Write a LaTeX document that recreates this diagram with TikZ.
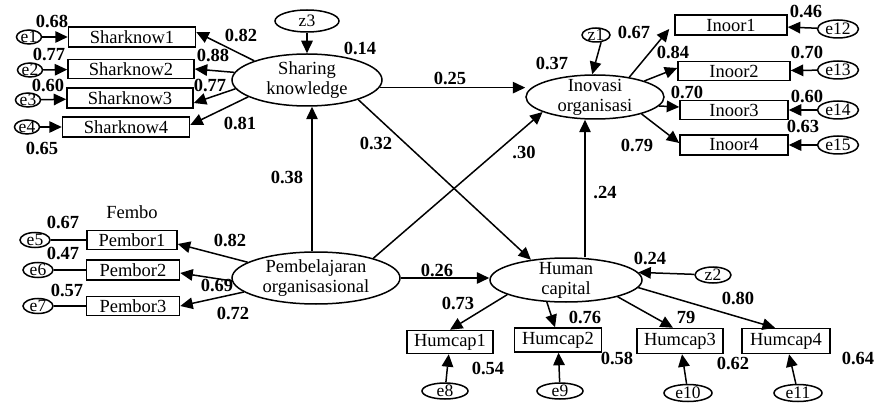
\documentclass[tikz,border=0pt]{standalone}
\usepackage{fontspec}
\setmainfont{Liberation Serif}
\usetikzlibrary{shapes.geometric,arrows.meta}
\begin{document}
\begin{tikzpicture}[x=1pt,y=-1pt,
  fnt/.style={font=\fontsize{18.5}{20}\selectfont},
  efnt/.style={font=\fontsize{17.5}{19}\selectfont,inner sep=0pt},
  lat/.style={draw,ellipse,line width=1.5pt,inner sep=0pt},
  obs/.style={draw,rectangle,line width=1.5pt,inner sep=1pt,fnt},
  num/.style={font=\fontsize{18.5}{20}\selectfont\bfseries,inner sep=0pt},
  arr/.style={line width=1.5pt,-{Triangle[length=12.5pt,width=11.5pt]}},
  ln/.style={line width=1.5pt}]
\useasboundingbox (0,0) rectangle (878,406);

% latent variables
\node[lat,minimum width=150,minimum height=52,label={[name=skt,fnt,align=center,inner sep=0pt]center:Sharing\\knowledge}] (sk) at (307,80) {};
\node[lat,minimum width=138,minimum height=44,label={[name=iot,fnt,align=center,inner sep=0pt]center:Inovasi\\organisasi}] (io) at (595,97) {};
\node[lat,minimum width=152,minimum height=44,label={[name=hct,fnt,align=center,inner sep=0pt]center:Human\\capital}] (hc) at (566,280) {};
\node[lat,minimum width=168,minimum height=52,label={[name=pot,fnt,align=center,inner sep=0pt]center:Pembelajaran\\organisasional}] (po) at (316,278) {};

% disturbances
\node[lat,minimum width=64,minimum height=22,label={[name=z3t,efnt]center:z3}] (z3) at (307,21) {};
\node[lat,minimum width=28,minimum height=14,label={[name=z1t,efnt]center:z1}] (z1) at (596,35) {};
\node[lat,minimum width=36,minimum height=16,label={[name=z2t,efnt]center:z2}] (z2) at (713,275) {};

% Sharknow
\node[obs,minimum width=127,minimum height=20] (sn1) at (132,37) {Sharknow1};
\node[obs,minimum width=126,minimum height=19] (sn2) at (131,69) {Sharknow2};
\node[obs,minimum width=126,minimum height=20] (sn3) at (130,98) {Sharknow3};
\node[obs,minimum width=127,minimum height=20] (sn4) at (126,127) {Sharknow4};
\node[lat,minimum width=25,minimum height=14,label={[name=e1t,efnt]center:e1}] (e1) at (29,37) {};
\node[lat,minimum width=25,minimum height=14,label={[name=e2t,efnt]center:e2}] (e2) at (30,70) {};
\node[lat,minimum width=25,minimum height=14,label={[name=e3t,efnt]center:e3}] (e3) at (28,100) {};
\node[lat,minimum width=25,minimum height=14,label={[name=e4t,efnt]center:e4}] (e4) at (27,127) {};

% Inoor
\node[obs,minimum width=112,minimum height=20] (in1) at (731,25) {Inoor1};
\node[obs,minimum width=112,minimum height=19] (in2) at (734,71) {Inoor2};
\node[obs,minimum width=108,minimum height=19] (in3) at (734,110) {Inoor3};
\node[obs,minimum width=108,minimum height=20] (in4) at (734,145) {Inoor4};
\node[lat,minimum width=41,minimum height=18,label={[name=e12t,efnt]center:e12}] (e12) at (838,29) {};
\node[lat,minimum width=41,minimum height=18,label={[name=e13t,efnt]center:e13}] (e13) at (838,70) {};
\node[lat,minimum width=41,minimum height=18,label={[name=e14t,efnt]center:e14}] (e14) at (838,110) {};
\node[lat,minimum width=41,minimum height=18,label={[name=e15t,efnt]center:e15}] (e15) at (838,145) {};

% Pembor
\node[fnt,inner sep=0pt] (fembo) at (132,212) {Fembo};
\node[obs,minimum width=90,minimum height=19] (pb1) at (132,240) {Pembor1};
\node[obs,minimum width=93,minimum height=20] (pb2) at (133,270) {Pembor2};
\node[obs,minimum width=93,minimum height=19] (pb3) at (133,306) {Pembor3};
\node[lat,minimum width=30,minimum height=15,label={[name=e5t,efnt]center:e5}] (e5) at (35,240) {};
\node[lat,minimum width=30,minimum height=15,label={[name=e6t,efnt]center:e6}] (e6) at (38,270) {};
\node[lat,minimum width=30,minimum height=15,label={[name=e7t,efnt]center:e7}] (e7) at (38,306) {};

% Humcap
\node[obs,minimum width=86,minimum height=23] (hp1) at (450,342) {Humcap1};
\node[obs,minimum width=87,minimum height=24] (hp2) at (558,340) {Humcap2};
\node[obs,minimum width=86,minimum height=25] (hp3) at (680,341) {Humcap3};
\node[obs,minimum width=88,minimum height=25] (hp4) at (786,341) {Humcap4};
\node[lat,minimum width=46,minimum height=16,label={[name=e8t,efnt]center:e8}] (e8) at (445,391) {};
\node[lat,minimum width=46,minimum height=16,label={[name=e9t,efnt]center:e9}] (e9) at (560,391) {};
\node[lat,minimum width=48,minimum height=17,label={[name=e10t,efnt]center:e10}] (e10) at (688,393) {};
\node[lat,minimum width=48,minimum height=17,label={[name=e11t,efnt]center:e11}] (e11) at (798,393) {};

% measurement arrows: Sharing knowledge
\draw[arr] (sk.160) -- ([yshift=5pt]sn1.east);
\draw[arr] (sk.174) -- (sn2.east);
\draw[arr] (sk.187) -- ([yshift=-5pt]sn3.east);
\draw[arr] (sk.196) -- ([yshift=2pt]sn4.east);
\draw[arr] (e1) -- (sn1);
\draw[arr] (e2) -- (sn2);
\draw[arr] (e3) -- (sn3);
\draw[arr] (e4) -- (sn4);

% Inovasi
\draw[arr] (io.30) -- ([xshift=-5pt,yshift=-4pt]in1.west);
\draw[arr] (io.18) -- ([yshift=3pt]in2.west);
\draw[arr] (io.-8) -- ([yshift=3pt]in3.west);
\draw[arr] (io.-20) -- ([yshift=2pt]in4.west);
\draw[arr] (e12) -- (in1);
\draw[arr] (e13) -- (in2);
\draw[arr] (e14) -- (in3);
\draw[arr] (e15) -- (in4);

% Pembelajaran
\draw[arr] (po.167) -- ([yshift=-4pt]pb1.east);
\draw[arr] (po.182) -- ([yshift=-3pt]pb2.east);
\draw[arr] (po.191) -- (pb3.east);
\draw[ln] (e5) -- (pb1);
\draw[ln] (e6) -- (pb2);
\draw[ln] (e7) -- (pb3);

% Human capital
\draw[arr] (hc.194) -- (hp1.north);
\draw[arr] (hc.229) -- ([xshift=-3pt]hp2.north);
\draw[arr] (hc.-18) -- ([xshift=-7pt]hp3.north);
\draw[arr] (hc.-6) -- ([xshift=-11pt]hp4.north);
\draw[arr] (e8) -- (hp1);
\draw[arr] (e9) -- (hp2);
\draw[arr] (e10) -- (hp3);
\draw[arr] (e11) -- (hp4);

% disturbances
\draw[arr] (z3) -- (sk);
\draw[arr] (z1.-55) -- (io.97);
\draw[arr] (z2) -- (hc.6);

% structural paths
\draw[arr] ([xshift=-4pt]po.north) -- ([xshift=-4pt]po.north |- sk.south);
\draw[arr] (sk.-6) -- (io.west |- sk.-6);
\draw[arr] (sk.-21) -- (hc.150);
\draw[arr] (po.19) -- (io.196);
\draw[arr] ([xshift=19pt]hc.north) -- ([xshift=19pt]hc.north |- io.south);
\draw[arr] (po.east) -- (po.east -| hc.west);

% numbers
\node[num] (a1) at (52,21) {0.68};
\node[num] (a2) at (49,54) {0.77};
\node[num] (a3) at (48,85) {0.60};
\node[num] (a4) at (42,148) {0.65};
\node[num] (a5) at (241,35) {0.82};
\node[num] (a6) at (213,55) {0.88};
\node[num] (a7) at (210,85) {0.77};
\node[num] (a8) at (240,123) {0.81};
\node[num] (a9) at (360,48) {0.14};
\node[num] (a10) at (450,78) {0.25};
\node[num] (a11) at (376,143) {0.32};
\node[num] (a12) at (552,63) {0.37};
\node[num] (a13) at (634,32) {0.67};
\node[num] (a14) at (673,52) {0.84};
\node[num] (a15) at (687,92) {0.70};
\node[num] (a16) at (637,145) {0.79};
\node[num] (a17) at (806,11) {0.46};
\node[num] (a18) at (807,52) {0.70};
\node[num] (a19) at (807,96) {0.60};
\node[num] (a20) at (803,126) {0.63};
\node[num] (a21) at (287,177) {0.38};
\node[num] (a22) at (524,152) {.30};
\node[num] (a23) at (605,193) {.24};
\node[num] (a24) at (437,270) {0.26};
\node[num] (a25) at (63,222) {0.67};
\node[num] (a26) at (63,253) {0.47};
\node[num] (a27) at (67,290) {0.57};
\node[num] (a28) at (230,240) {0.82};
\node[num] (a29) at (217,285) {0.69};
\node[num] (a30) at (233,313) {0.72};
\node[num] (a31) at (650,258) {0.24};
\node[num] (a32) at (458,303) {0.73};
\node[num] (a33) at (585,317) {0.76};
\node[num] (a34) at (686,317) {79};
\node[num] (a35) at (738,298) {0.80};
\node[num] (a36) at (488,368) {0.54};
\node[num] (a37) at (617,358) {0.58};
\node[num] (a38) at (733,363) {0.62};
\node[num] (a39) at (858,358) {0.64};
\end{tikzpicture}
\end{document}
